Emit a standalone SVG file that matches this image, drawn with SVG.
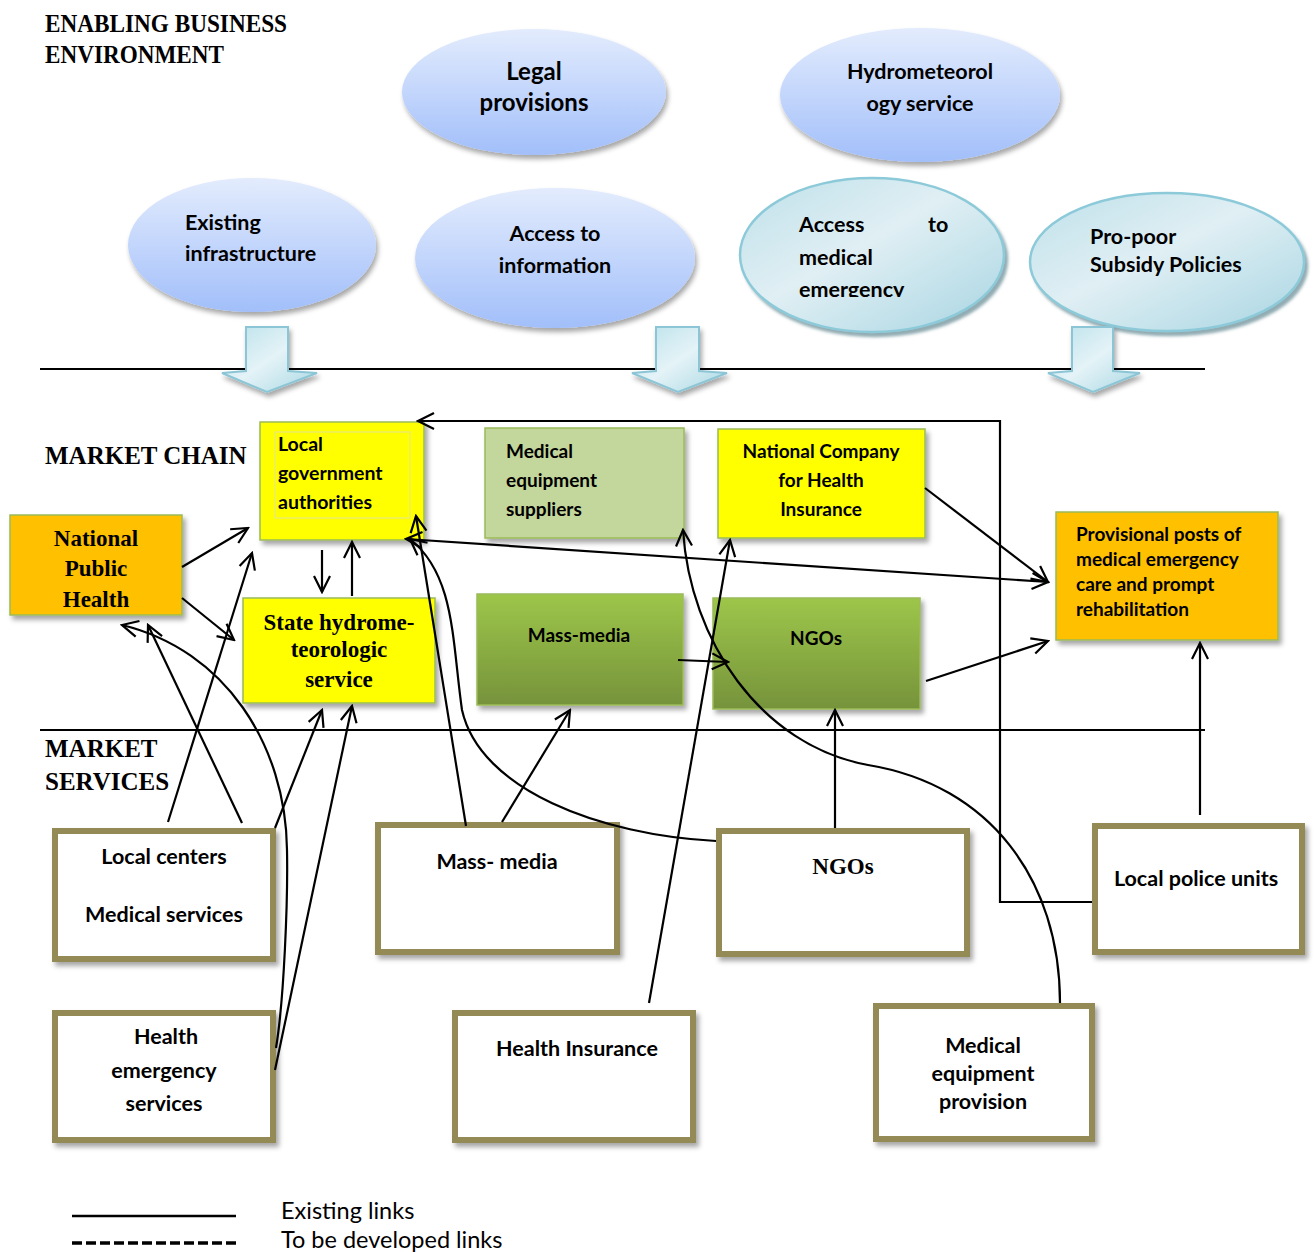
<svg xmlns="http://www.w3.org/2000/svg" width="1314" height="1252" viewBox="0 0 1314 1252">
  <defs>
    <style>
      .title { font-family: "Liberation Serif", serif; font-weight: bold; font-size: 25px; fill: #000; }
      .cal { font-family: Lato, "Liberation Sans", sans-serif; font-weight: bold; fill: #000; }
      .ser { font-family: "Liberation Serif", serif; font-weight: bold; fill: #000; }
      .ell-blue { fill: url(#blueGrad); filter: url(#softShadow); }
      .ell-teal { fill: url(#tealGrad); stroke: #8ccad9; stroke-width: 2.5; filter: url(#tealShadow); }
      .barrow { fill: url(#arrowGrad); stroke: #8cc6d6; stroke-width: 2; filter: url(#softShadow); }
      .chain { stroke: #9bbb59; stroke-width: 1.5; filter: url(#boxShadow); }
      .svc { fill: #fff; stroke: #948a54; stroke-width: 6; filter: url(#boxShadow); }
      .link { fill: none; stroke: #000; stroke-width: 2.2; }
      .arr { marker-end: url(#open); }
      .rule { stroke: #000; stroke-width: 2; }
    </style>
    <linearGradient id="blueGrad" x1="0" y1="0" x2="0" y2="1">
      <stop offset="0" stop-color="#e3ecfd"/>
      <stop offset="1" stop-color="#a2bffa"/>
    </linearGradient>
    <linearGradient id="tealGrad" x1="0" y1="0" x2="1" y2="1">
      <stop offset="0" stop-color="#bfe0ea"/>
      <stop offset="0.45" stop-color="#e0eff4"/>
      <stop offset="1" stop-color="#a8d5e2"/>
    </linearGradient>
    <linearGradient id="arrowGrad" x1="0" y1="0" x2="1" y2="1">
      <stop offset="0" stop-color="#b8e0ea"/>
      <stop offset="0.5" stop-color="#e4f3f7"/>
      <stop offset="1" stop-color="#a9d7e3"/>
    </linearGradient>
    <linearGradient id="greenGrad" x1="0" y1="0" x2="0" y2="1">
      <stop offset="0" stop-color="#9dc64a"/>
      <stop offset="1" stop-color="#76933b"/>
    </linearGradient>
    <filter id="softShadow" x="-10%" y="-10%" width="125%" height="130%">
      <feDropShadow dx="2" dy="4" stdDeviation="2.5" flood-color="#000" flood-opacity="0.35"/>
    </filter>
    <filter id="tealShadow" x="-10%" y="-10%" width="125%" height="130%">
      <feDropShadow dx="3" dy="4" stdDeviation="1.5" flood-color="#4a7580" flood-opacity="0.6"/>
    </filter>
    <filter id="boxShadow" x="-10%" y="-10%" width="125%" height="130%">
      <feDropShadow dx="3" dy="4" stdDeviation="2.5" flood-color="#000" flood-opacity="0.35"/>
    </filter>
    <clipPath id="clipEmerg">
      <rect x="740" y="170" width="270" height="127"/>
    </clipPath>
    <marker id="open" viewBox="0 0 20 20" refX="18" refY="10" markerWidth="20" markerHeight="20" markerUnits="userSpaceOnUse" orient="auto-start-reverse">
      <path d="M2,2 L18,10 L2,18" fill="none" stroke="#000" stroke-width="2.2"/>
    </marker>
  </defs>

  <rect width="1314" height="1252" fill="#fff"/>

  <!-- section titles -->
  <g id="titles">
    <text class="title" x="45" y="32" textLength="242" lengthAdjust="spacingAndGlyphs">ENABLING BUSINESS</text>
    <text class="title" x="45" y="63" textLength="179" lengthAdjust="spacingAndGlyphs">ENVIRONMENT</text>
    <text class="title" x="45" y="464" font-size="26">MARKET CHAIN</text>
    <text class="title" x="45" y="757" font-size="26">MARKET</text>
    <text class="title" x="45" y="790" font-size="26">SERVICES</text>
  </g>

  <!-- enabling environment ellipses -->
  <g id="legal-provisions">
    <ellipse class="ell-blue" cx="534" cy="92" rx="132" ry="63"/>
    <text class="cal" font-size="24" text-anchor="middle" x="534" y="80">Legal</text>
    <text class="cal" font-size="24" text-anchor="middle" x="534" y="111">provisions</text>
  </g>
  <g id="hydromet-service">
    <ellipse class="ell-blue" cx="920" cy="95" rx="140" ry="67"/>
    <text class="cal" font-size="21.5" text-anchor="middle" x="920" y="79">Hydrometeorol</text>
    <text class="cal" font-size="21.5" text-anchor="middle" x="920" y="111">ogy service</text>
  </g>
  <g id="existing-infrastructure">
    <ellipse class="ell-blue" cx="252" cy="245" rx="124" ry="67"/>
    <text class="cal" font-size="21.5" x="185" y="230">Existing</text>
    <text class="cal" font-size="21.5" x="185" y="261">infrastructure</text>
  </g>
  <g id="access-information">
    <ellipse class="ell-blue" cx="555" cy="258" rx="140" ry="70"/>
    <text class="cal" font-size="21.5" text-anchor="middle" x="555" y="241">Access to</text>
    <text class="cal" font-size="21.5" text-anchor="middle" x="555" y="273">information</text>
  </g>
  <g id="access-medical-emergency">
    <ellipse class="ell-teal" cx="872" cy="255" rx="132" ry="77"/>
    <text class="cal" font-size="21.5" x="799" y="232">Access</text>
    <text class="cal" font-size="21.5" x="928" y="232">to</text>
    <text class="cal" font-size="21.5" x="799" y="265">medical</text>
    <text class="cal" font-size="21.5" x="799" y="297" clip-path="url(#clipEmerg)">emergency</text>
  </g>
  <g id="pro-poor-subsidy">
    <ellipse class="ell-teal" cx="1167" cy="262" rx="137" ry="69"/>
    <text class="cal" font-size="21.5" x="1090" y="244">Pro-poor</text>
    <text class="cal" font-size="21.5" x="1090" y="272">Subsidy Policies</text>
  </g>

  <!-- section rules -->
  <line class="rule" x1="40" y1="369" x2="1205" y2="369"/>
  <line class="rule" x1="40" y1="730" x2="1205" y2="730"/>

  <!-- block arrows from environment to chain -->
  <g id="block-arrows">
    <polygon class="barrow" points="246,327 288,327 288,371 317,373 267,392 222,373 246,371"/>
    <polygon class="barrow" points="656,327 699,327 699,371 727,373 678,392 632,373 656,371"/>
    <polygon class="barrow" points="1072,327 1113,327 1113,371 1140,373 1093,392 1048,373 1072,371"/>
  </g>

  <!-- market chain actors -->
  <g id="local-government">
    <rect class="chain" x="260" y="422" width="164" height="118" fill="#ffff00"/>
    <rect x="275" y="432" width="135" height="86" fill="none" stroke="#e4e49a" stroke-width="1"/>
    <text class="cal" font-size="19.5" x="278" y="451">Local</text>
    <text class="cal" font-size="19.5" x="278" y="480">government</text>
    <text class="cal" font-size="19.5" x="278" y="509">authorities</text>
  </g>
  <g id="national-public-health">
    <rect class="chain" x="10" y="515" width="172" height="100" fill="#ffc000"/>
    <text class="ser" font-size="23" text-anchor="middle" x="96" y="546">National</text>
    <text class="ser" font-size="23" text-anchor="middle" x="96" y="576">Public</text>
    <text class="ser" font-size="23" text-anchor="middle" x="96" y="607">Health</text>
  </g>
  <g id="state-hydromet">
    <rect class="chain" x="243" y="598" width="192" height="105" fill="#ffff00"/>
    <text class="ser" font-size="23" text-anchor="middle" x="339" y="630">State hydrome-</text>
    <text class="ser" font-size="23" text-anchor="middle" x="339" y="657">teorologic</text>
    <text class="ser" font-size="23" text-anchor="middle" x="339" y="687">service</text>
  </g>
  <g id="medical-equipment-suppliers">
    <rect class="chain" x="485" y="428" width="199" height="110" fill="#c3d69b"/>
    <text class="cal" font-size="19" x="506" y="458">Medical</text>
    <text class="cal" font-size="19" x="506" y="487">equipment</text>
    <text class="cal" font-size="19" x="506" y="516">suppliers</text>
  </g>
  <g id="national-health-insurance">
    <rect class="chain" x="718" y="429" width="207" height="109" fill="#ffff00"/>
    <text class="cal" font-size="19" text-anchor="middle" x="821" y="458">National Company</text>
    <text class="cal" font-size="19" text-anchor="middle" x="821" y="487">for Health</text>
    <text class="cal" font-size="19" text-anchor="middle" x="821" y="516">Insurance</text>
  </g>
  <g id="mass-media-chain">
    <rect class="chain" x="477" y="594" width="206" height="111" fill="url(#greenGrad)"/>
    <text class="cal" font-size="19" text-anchor="middle" x="579" y="642">Mass-media</text>
  </g>
  <g id="ngos-chain">
    <rect class="chain" x="713" y="598" width="207" height="111" fill="url(#greenGrad)"/>
    <text class="cal" font-size="19" text-anchor="middle" x="816" y="645">NGOs</text>
  </g>
  <g id="provisional-posts">
    <rect class="chain" x="1056" y="512" width="222" height="128" fill="#ffc000"/>
    <text class="cal" font-size="19" x="1076" y="541">Provisional posts of</text>
    <text class="cal" font-size="19" x="1076" y="566">medical emergency</text>
    <text class="cal" font-size="19" x="1076" y="591">care and prompt</text>
    <text class="cal" font-size="19" x="1076" y="616">rehabilitation</text>
  </g>

  <!-- market service providers -->
  <g id="local-centers">
    <rect class="svc" x="55" y="831" width="218" height="128"/>
    <text class="cal" font-size="21.5" text-anchor="middle" x="164" y="864">Local centers</text>
    <text class="cal" font-size="21.5" text-anchor="middle" x="164" y="922">Medical services</text>
  </g>
  <g id="health-emergency-services">
    <rect class="svc" x="55" y="1013" width="218" height="127"/>
    <text class="cal" font-size="21.5" text-anchor="middle" x="166" y="1044">Health</text>
    <text class="cal" font-size="21.5" text-anchor="middle" x="164" y="1078">emergency</text>
    <text class="cal" font-size="21.5" text-anchor="middle" x="164" y="1111">services</text>
  </g>
  <g id="mass-media-service">
    <rect class="svc" x="378" y="825" width="239" height="127"/>
    <text class="cal" font-size="21.5" text-anchor="middle" x="497" y="869">Mass- media</text>
  </g>
  <g id="health-insurance-service">
    <rect class="svc" x="455" y="1013" width="238" height="127"/>
    <text class="cal" font-size="21.5" text-anchor="middle" x="577" y="1056">Health Insurance</text>
  </g>
  <g id="ngos-service">
    <rect class="svc" x="719" y="831" width="248" height="123"/>
    <text class="ser" font-size="23" text-anchor="middle" x="843" y="874">NGOs</text>
  </g>
  <g id="local-police-units">
    <rect class="svc" x="1095" y="826" width="207" height="126"/>
    <text class="cal" font-size="21.5" text-anchor="middle" x="1196" y="886">Local police units</text>
  </g>
  <g id="medical-equipment-provision">
    <rect class="svc" x="876" y="1006" width="216" height="133"/>
    <text class="cal" font-size="21.5" text-anchor="middle" x="983" y="1053">Medical</text>
    <text class="cal" font-size="21.5" text-anchor="middle" x="983" y="1081">equipment</text>
    <text class="cal" font-size="21.5" text-anchor="middle" x="983" y="1109">provision</text>
  </g>

  <!-- links between actors -->
  <g id="connectors">
    <path class="link arr" d="M182,567 L248,528"/>
    <path class="link arr" d="M182,598 L234,640"/>
    <path class="link arr" d="M322,550 L322,592"/>
    <path class="link arr" d="M352,596 L352,542"/>
    <path class="link arr" d="M168,822 L252,553"/>
    <path class="link arr" d="M242,823 L148,625"/>
    <path class="link arr" d="M275,828 L322,710"/>
    <path class="link arr" d="M276,1048 C284,1000 288,900 287,850 C286,745 225,650 122,625"/>
    <path class="link arr" d="M275,1070 L352,706"/>
    <path class="link arr" d="M466,826 L416,516"/>
    <path class="link arr" d="M502,822 L570,710"/>
    <path class="link arr" d="M716,841 C600,835 480,790 462,710 C452,640 455,575 410,539"/>
    <path class="link arr" d="M835,828 L835,710"/>
    <path class="link arr" d="M649,1003 L730,540"/>
    <path class="link arr" d="M1060,1003 C1060,880 990,785 868,765 C760,745 690,640 683,530"/>
    <path class="link arr" d="M1092,902 L1000,902 L1000,421 L418,421"/>
    <path class="link arr" d="M1200,815 L1200,643"/>
    <path class="link arr" d="M925,488 L1048,582"/>
    <path class="link arr" d="M926,681 L1048,641"/>
    <path class="link arr" d="M678,660 L728,662"/>
    <path class="link arr" d="M406,539 L1048,582" marker-start="url(#open)"/>
  </g>

  <!-- legend -->
  <g id="legend">
    <line x1="72" y1="1216" x2="236" y2="1216" stroke="#000" stroke-width="2.5"/>
    <line x1="72" y1="1243" x2="236" y2="1243" stroke="#000" stroke-width="3.5" stroke-dasharray="10,4"/>
    <text x="281" y="1219" font-family="Lato, 'Liberation Sans', sans-serif" font-size="23.5" fill="#000">Existing links</text>
    <text x="281" y="1248" font-family="Lato, 'Liberation Sans', sans-serif" font-size="23.5" fill="#000">To be developed links</text>
  </g>
</svg>
